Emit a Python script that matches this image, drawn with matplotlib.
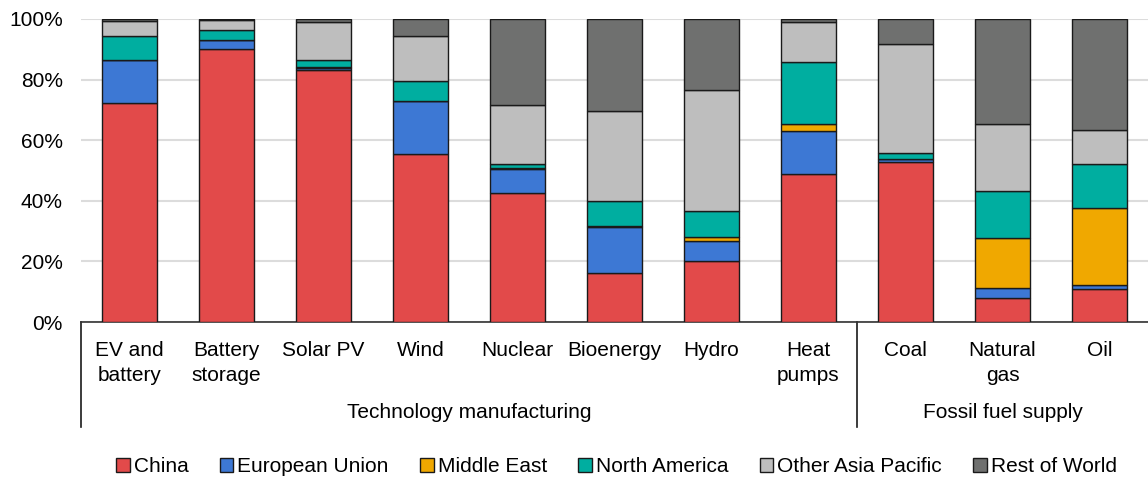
import numpy as np
import matplotlib as mpl
mpl.use('Agg')
import matplotlib.pyplot as plt
import matplotlib.transforms as mtrans

plt.rcParams['font.family'] = ['Liberation Sans', 'DejaVu Sans']

categories = ["EV and\nbattery", "Battery\nstorage", "Solar PV", "Wind", "Nuclear",
              "Bioenergy", "Hydro", "Heat\npumps", "Coal", "Natural\ngas", "Oil"]
groups = ["Technology manufacturing", "Fossil fuel supply"]
group_sizes = [8, 3]

regions = ["China", "European Union", "Middle East", "North America",
           "Other Asia Pacific", "Rest of World"]
colors = ["#E24A4A", "#3D78D4", "#F0A800", "#00AEA0", "#BEBEBE", "#6F706F"]

# shares in %
china  = [72.2, 90.2, 83.2, 55.3, 42.7, 16.2, 20.1, 49.0, 52.9,  7.9, 10.9]
eu     = [14.3,  3.0,  0.6, 17.5,  7.7, 15.2,  6.6, 14.2,  0.8,  3.3,  1.4]
mideast= [ 0.0,  0.0,  0.2,  0.0,  0.5,  0.2,  1.4,  2.2,  0.0, 16.6, 25.3]
namer  = [ 7.8,  3.3,  2.5,  6.9,  1.2,  8.3,  8.5, 20.5,  2.2, 15.4, 14.4]
oap    = [ 5.1,  3.3, 12.5, 14.8, 19.5, 29.7, 39.9, 13.2, 36.0, 22.1, 11.4]
rest   = [ 0.6,  0.2,  1.0,  5.5, 28.4, 30.4, 23.5,  0.9,  8.1, 34.7, 36.6]

series = [china, eu, mideast, namer, oap, rest]

fig = plt.figure(figsize=(11.48, 4.8), dpi=100)
ax = fig.add_axes([81/1148, 1-322/480, 1-81/1148, (322-19)/480])

x = np.arange(len(categories))
bottom = np.zeros(len(categories))
for name, vals, col in zip(regions, series, colors):
    vals = np.array(vals)
    ax.bar(x, vals, 0.57, bottom=bottom, color=col, edgecolor='#1a1a1a',
           linewidth=1.0, label=name, zorder=3)
    bottom += vals

ax.set_xlim(-0.5, len(categories)-0.5)
ax.set_ylim(0, 100)
ax.set_yticks(np.arange(0, 101, 20))
ax.set_yticklabels([f"{v}%" for v in range(0, 101, 20)], fontsize=15)
ax.tick_params(axis='y', length=0, pad=13)
ax.set_xticks([])
ax.grid(axis='y', color='#DCDCDC', linewidth=1.5, zorder=0)
for s in ['top', 'right', 'left']:
    ax.spines[s].set_visible(False)
ax.spines['bottom'].set_color('#333333')
ax.spines['bottom'].set_linewidth(1.2)

trans = mtrans.blended_transform_factory(ax.transData, fig.transFigure)
for xi, lab in zip(x, categories):
    ax.text(xi, 1-341/480, lab, transform=trans, ha='center', va='top',
            fontsize=15, linespacing=1.38)

start = 0
for g, n in zip(groups, group_sizes):
    mid = start + (n-1)/2
    ax.text(mid, 1-413/480, g, transform=trans, ha='center', va='center', fontsize=15)
    ax.plot([start-0.5, start-0.5], [1-322/480, 1-427/480], transform=trans,
            color='#1a1a1a', linewidth=1.2, clip_on=False)
    start += n

fig.legend(loc='center', bbox_to_anchor=(0.537, 1-467/480), ncol=6, frameon=False,
           fontsize=15, handlelength=0.65, handleheight=0.65, handletextpad=0.2,
           columnspacing=1.5)

fig.savefig('out.png', dpi=100)
